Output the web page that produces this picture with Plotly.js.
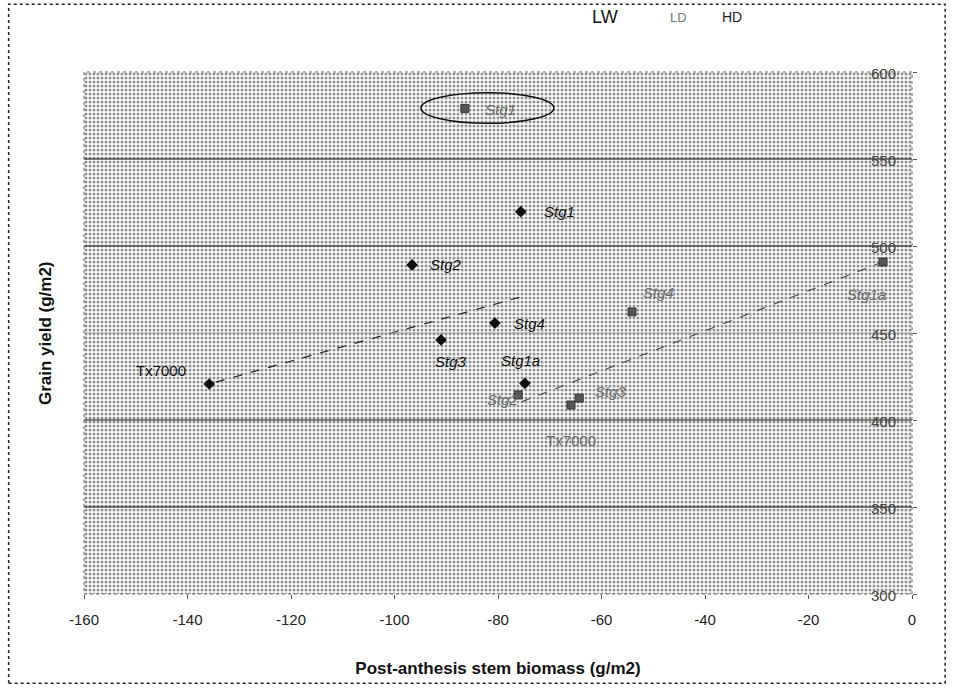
<!DOCTYPE html>
<html>
<head>
<meta charset="utf-8">
<script src="https://cdn.plot.ly/plotly-3.0.1.min.js"></script>
<style>html,body{margin:0;padding:0;background:#fff;}#chart{width:954px;height:689px;}</style>
</head>
<body>
<div id="chart"></div>
<script>
// ---- Data ----
const lwNames = ["Tx7000", "Stg2", "Stg3", "Stg4", "Stg1", "Stg1a"];
const lwX = [-135.8, -96.6, -91.0, -80.6, -75.6, -74.8];
const lwY = [420.7, 489.1, 446.0, 455.7, 519.7, 421.1];

const hdNames = ["Stg1", "Stg4", "Stg1a", "Stg3", "Stg2", "Tx7000"];
const hdX = [-86.4, -54.1, -5.6, -64.3, -76.1, -65.9];
const hdY = [579.1, 462.1, 490.8, 412.6, 414.4, 408.6];

// trend lines (end points)
const lwTrendX = [-134.5, -75.6];
const lwTrendY = [421.8, 470.7];
const hdTrendX = [-75.4, -6.2];
const hdTrendY = [410.5, 490.2];

const xRange = [-160, 0];
const yRange = [300, 600];
const xTicks = [-160, -140, -120, -100, -80, -60, -40, -20, 0];
const yTicks = [300, 350, 400, 450, 500, 550, 600];
const gridDark = [350, 400, 500, 550];
const gridLight = [450];
const legendLabels = ["LW", "LD", "HD"];

// label offsets (pixels) for each point label
const lwLabelPos = [
  {xa: "right", xs: -21, ys: 13, it: false},
  {xa: "left", xs: 16, ys: 0, it: true},
  {xa: "center", xs: 10, ys: -22, it: true},
  {xa: "left", xs: 17, ys: 0, it: true},
  {xa: "left", xs: 21, ys: 0, it: true},
  {xa: "center", xs: -4, ys: 23, it: true}
];
const hdLabelPos = [
  {xa: "left", xs: 18, ys: -1},
  {xa: "left", xs: 9, ys: 19},
  {xa: "center", xs: -17, ys: -32},
  {xa: "left", xs: 14, ys: 7},
  {xa: "right", xs: 3, ys: -5},
  {xa: "center", xs: 0, ys: -35}
];

const FONT = "Liberation Sans, Arial, sans-serif";

const traces = [
  { // stippled plot background
    x: [xRange[0], xRange[1], xRange[1], xRange[0]],
    y: [yRange[0], yRange[0], yRange[1], yRange[1]],
    mode: "lines", fill: "toself", line: {width: 0},
    fillcolor: "rgba(0,0,0,0)",
    fillpattern: {shape: ".", fgcolor: "#222222", bgcolor: "#ffffff", size: 4, solidity: 0.45, fillmode: "overlay"},
    hoverinfo: "skip", showlegend: false
  },
  {
    x: lwTrendX, y: lwTrendY, mode: "lines",
    line: {color: "#222", width: 1.2, dash: "dash"}, showlegend: false
  },
  {
    x: hdTrendX, y: hdTrendY, mode: "lines",
    line: {color: "#444", width: 1.2, dash: "dash"}, showlegend: false
  },
  {
    x: lwX, y: lwY, mode: "markers", name: "LW",
    marker: {symbol: "diamond", size: 9, color: "#111"}, showlegend: false
  },
  {
    x: hdX, y: hdY, mode: "markers", name: "HD",
    marker: {symbol: "square", size: 8, color: "#555", line: {color: "#333", width: 1}}, showlegend: false
  }
];

const annotations = [];
lwNames.forEach((n, i) => {
  const p = lwLabelPos[i];
  annotations.push({
    x: lwX[i], y: lwY[i], text: n, showarrow: false,
    xanchor: p.xa, yanchor: "middle", xshift: p.xs, yshift: p.ys,
    font: {family: FONT, size: 15, color: "#111", style: p.it ? "italic" : "normal"}
  });
});
hdNames.forEach((n, i) => {
  const p = hdLabelPos[i];
  annotations.push({
    x: hdX[i], y: hdY[i], text: n, showarrow: false,
    xanchor: p.xa, yanchor: "middle", xshift: p.xs, yshift: p.ys,
    font: {family: FONT, size: 15, color: "#6a6a6a", style: i === 5 ? "normal" : "italic"}
  });
});
// y tick labels, drawn inside the plot at the right edge
yTicks.forEach(v => {
  annotations.push({
    xref: "paper", yref: "y", x: 1, y: v, text: String(v), showarrow: false,
    xanchor: "right", yanchor: "middle", xshift: -14, yshift: -1,
    font: {family: FONT, size: 15, color: "#444"}
  });
});
// legend texts
const legX = [0.611, 0.705, 0.768];
const legSize = [18, 13, 14];
const legColor = ["#111", "#777", "#222"];
legendLabels.forEach((t, i) => {
  annotations.push({
    xref: "paper", yref: "paper", x: legX[i], y: 1.105, text: t, showarrow: false,
    xanchor: "left", yanchor: "middle",
    font: {family: FONT, size: legSize[i], color: legColor[i]}
  });
});
// y axis title (left side)
annotations.push({
  xref: "paper", yref: "paper", x: -0.047, y: 0.5, text: "<b>Grain yield (g/m2)</b>",
  textangle: -90, showarrow: false, xanchor: "center", yanchor: "middle",
  font: {family: FONT, size: 17, color: "#111"}
});

const shapes = [];
gridDark.forEach(v => shapes.push({
  type: "line", xref: "paper", x0: 0, x1: 1, yref: "y", y0: v, y1: v,
  line: {color: "#111", width: 1}, layer: "above"
}));
gridLight.forEach(v => shapes.push({
  type: "line", xref: "paper", x0: 0, x1: 1, yref: "y", y0: v, y1: v,
  line: {color: "#999", width: 1}, layer: "above"
}));
// ellipse around the outlying HD Stg1 point
shapes.push({
  type: "circle", xref: "x", yref: "y",
  x0: hdX[0] - 8.5, x1: hdX[0] + 17.2, y0: hdY[0] - 8.6, y1: hdY[0] + 9.0,
  line: {color: "#111", width: 1.5}, layer: "above"
});
// plot frame
shapes.push({
  type: "rect", xref: "paper", yref: "paper", x0: 0, x1: 1, y0: 0, y1: 1,
  line: {color: "#666", width: 1, dash: "dot"}, layer: "above"
});
// outer chart border
shapes.push({
  type: "rect", xref: "paper", yref: "paper",
  x0: -0.091, x1: 1.04, y0: -0.171, y1: 1.13,
  line: {color: "#222", width: 1.5, dash: "dot"}, layer: "above"
});

const layout = {
  width: 954, height: 689,
  margin: {l: 84, r: 42, t: 72, b: 95},
  paper_bgcolor: "#ffffff",
  plot_bgcolor: "#ffffff",
  showlegend: false,
  font: {family: FONT, size: 14, color: "#222"},
  xaxis: {
    range: xRange, tickvals: xTicks, ticktext: xTicks.map(String),
    showgrid: false, zeroline: false, showline: false,
    ticks: "outside", ticklen: 4, tickcolor: "#555",
    ticklabelstandoff: 8,
    tickfont: {family: FONT, size: 15, color: "#222"},
    title: {text: "<b>Post-anthesis stem biomass (g/m2)</b>", font: {family: FONT, size: 17, color: "#111"}, standoff: 35}
  },
  yaxis: {
    range: yRange, tickvals: yTicks,
    side: "right", showticklabels: false,
    showgrid: false, zeroline: false, showline: false,
    ticks: "outside", ticklen: 4, tickcolor: "#555"
  },
  annotations: annotations,
  shapes: shapes
};

Plotly.newPlot("chart", traces, layout, {displayModeBar: false, staticPlot: true});
</script>
</body>
</html>
